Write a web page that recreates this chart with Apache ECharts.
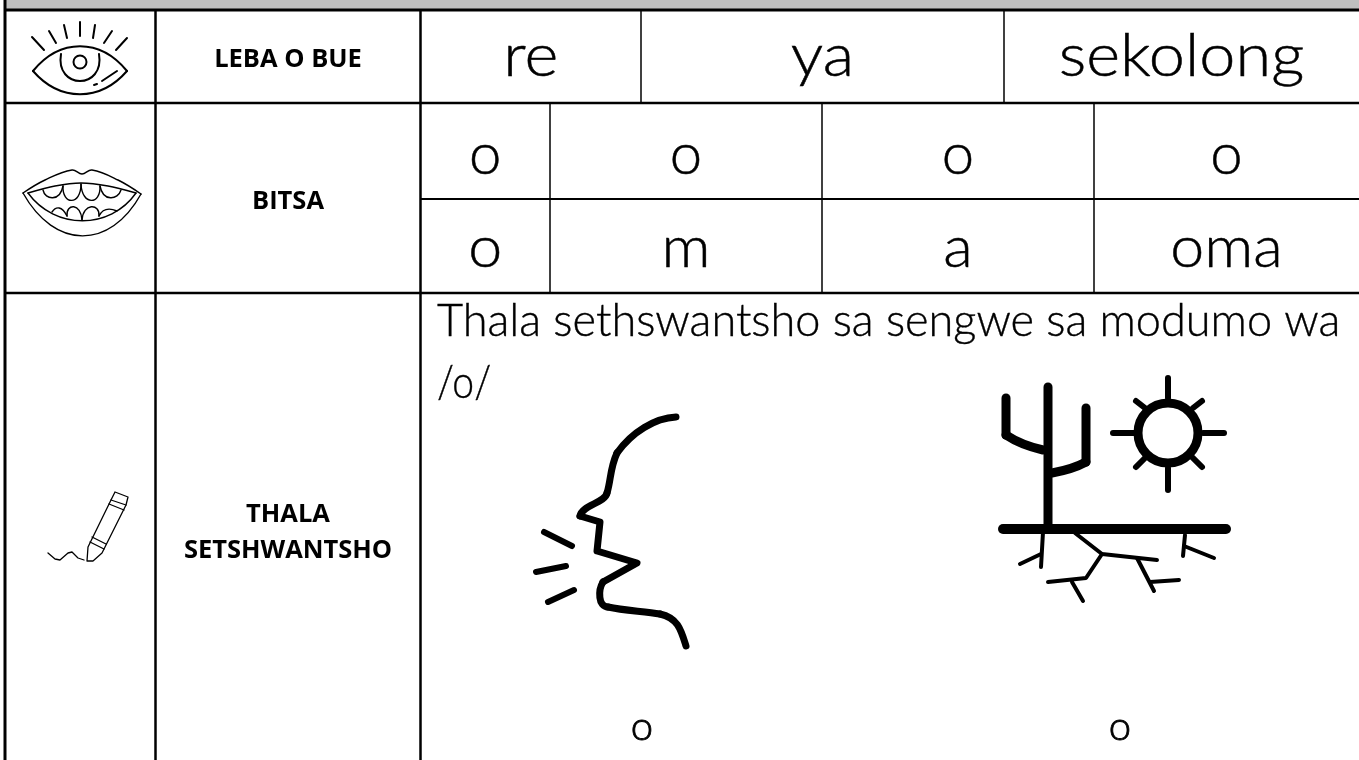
<!DOCTYPE html>
<html><head><meta charset="utf-8">
<style>html,body{margin:0;padding:0;background:#fff}#c{width:1359px;height:760px}</style>
<script src="https://cdn.jsdelivr.net/npm/echarts@6/dist/echarts.min.js"></script>
</head><body><div id="c"></div>
<script>
const rowHeadings = [['LEBA O BUE'], ['BITSA'], ['THALA', 'SETSHWANTSHO']];
const sentenceWords = ['re', 'ya', 'sekolong'];
const soundRowOne = ['o', 'o', 'o', 'o'];
const soundRowTwo = ['o', 'm', 'a', 'oma'];
const instructionLines = ['Thala sethswantsho sa sengwe sa modumo wa', '/o/'];
const pictureLabels = ['o', 'o'];

const W = 1359, H = 760;
const LEFT = 5, C1 = 155.5, C2 = 420.5;
const R0 = 10, R1 = 103, R2 = 199, R3 = 293;
const sentenceEdges = [C2, 641, 1004, W];
const soundEdges = [C2, 550, 822, 1094, W];
const HAND = 'Lato', BOLD = '"Open Sans"';

const rules = [
  [LEFT, 0, LEFT, H, 3], [C1, R0, C1, H, 2.5], [C2, R0, C2, H, 2.5],
  [LEFT, R0, W, R0, 3], [LEFT, R1, W, R1, 2.5], [C2, R2, W, R2, 2], [LEFT, R3, W, R3, 2.5],
  [641, R0, 641, R1, 1.5], [1004, R0, 1004, R1, 1.5],
  [550, R1, 550, R3, 1.5], [822, R1, 822, R3, 1.5], [1094, R1, 1094, R3, 1.5]
];

const texts = [];
const mid = (e, i) => (e[i] + e[i + 1]) / 2;
const put = (x, y, t, font, size, weight, sx, align, sw) => texts.push({x, y, t, font, size, weight, sx: sx || 1, align: align || 'center', sw: sw || 0});
put(288, 60, rowHeadings[0][0], BOLD, 25.5, 700);
put(288, 202, rowHeadings[1][0], BOLD, 25.5, 700);
put(288, 515, rowHeadings[2][0], BOLD, 25.5, 700);
put(288, 551, rowHeadings[2][1], BOLD, 25.5, 700);
sentenceWords.forEach((w, i) => put(mid(sentenceEdges, i), 57, w, HAND, 60, 300, 1.08, 'center', 0.5));
soundRowOne.forEach((w, i) => put(mid(soundEdges, i), 155, w, HAND, 58, 300, 1, 'center', 0.5));
soundRowTwo.forEach((w, i) => put(mid(soundEdges, i), 248, w, HAND, 58, 300, 1.05, 'center', 0.5));
put(437, 321, instructionLines[0], HAND, 46, 300, 0.98, 'left', 0.4);
put(437, 383, instructionLines[1], HAND, 46, 300, 0.85, 'left', 0.4);
put(642, 727, pictureLabels[0], HAND, 40, 300, 1, 'center', 0.8);
put(1120, 727, pictureLabels[1], HAND, 40, 300, 1, 'center', 0.8);

const g = [];
const S = (lw) => ({stroke: '#000', fill: null, lineWidth: lw, lineCap: 'round', lineJoin: 'round'});
const pl = (pts, lw, smooth) => g.push({type: 'polyline', shape: {points: pts, smooth: smooth || 0}, style: S(lw), silent: true});
const ln = (a, b, c, d, lw) => pl([[a, b], [c, d]], lw);
const ci = (cx, cy, r, lw) => g.push({type: 'circle', shape: {cx, cy, r}, style: S(lw), silent: true});
const bz = (a, b, c, d, e, f, h, i, lw) => g.push({type: 'bezierCurve', shape: {x1: a, y1: b, cpx1: c, cpy1: d, cpx2: e, cpy2: f, x2: h, y2: i}, style: S(lw), silent: true});

// eye
bz(33, 71, 60, 38, 100, 38, 127, 71, 2);
bz(33, 71, 60, 102, 100, 102, 127, 71, 2);
bz(61, 54, 55, 90, 105, 90, 99, 54, 2);
ci(80, 62, 6.5, 2);
[[32, 37, 44, 50], [49, 31, 56, 43], [64, 25, 67, 38], [80, 22, 80, 36], [95, 25, 93, 38], [112, 31, 104, 43], [127, 38, 116, 50], [102, 81, 117, 71], [94, 85, 97, 84]]
  .forEach(p => ln(p[0], p[1], p[2], p[3], 2));

// mouth
const Lw = 1.4;
pl([[23, 193], [45, 180], [72, 170], [82, 174], [92, 170], [118, 180], [141, 194]], Lw, 0.4);
bz(23, 193, 55, 250, 110, 250, 141, 194, Lw);
pl([[28, 193], [55, 186], [81, 183], [108, 186], [136, 193]], Lw, 0.3);
bz(28, 193, 55, 230, 110, 230, 136, 193, Lw);
bz(43, 190, 45, 200, 60, 202, 63, 186, Lw);
bz(63, 186, 62, 205, 81, 206, 81, 184, Lw);
bz(81, 184, 82, 206, 101, 205, 100, 186, Lw);
bz(100, 186, 103, 202, 118, 200, 121, 190, Lw);
bz(52, 212, 56, 206, 62, 206, 67, 216, Lw);
bz(67, 216, 66, 203, 81, 203, 82, 220, Lw);
bz(82, 220, 83, 203, 100, 203, 99, 216, Lw);
bz(99, 216, 103, 208, 110, 208, 117, 211, Lw);

// crayon
pl([[115, 492], [128, 497], [126, 505], [102, 553], [93, 561], [87, 561], [88, 547], [111, 500], [115, 492]], 1.3);
ln(111, 500, 126, 505, 1.3);
ln(109, 504, 124, 510, 1.3);
ln(92, 537, 106, 544, 1.3);
ln(90, 542, 104, 549, 1.3);
pl([[48, 553], [55, 559], [60, 560], [68, 553], [72, 552], [78, 558], [84, 560]], 1.3);

// face
const F = 7;
bz(676, 417, 655, 418, 632, 432, 617, 453, F);
bz(617, 453, 610, 468, 611, 480, 607, 493, F);
bz(607, 493, 605, 503, 582, 505, 580, 516, F);
pl([[580, 516], [600, 522], [597, 551], [637, 563], [603, 582]], F);
bz(603, 582, 598, 590, 598, 607, 608, 607, F);
bz(608, 607, 625, 611, 645, 611, 660, 614, F);
bz(660, 614, 678, 618, 681, 630, 686, 646, F);
ln(544, 532, 572, 546, 6);
ln(536, 572, 566, 566, 6);
ln(548, 602, 574, 590, 6);

// cactus and sun
ln(1048, 387, 1048, 528, 9);
ln(1006, 398, 1006, 435, 9);
bz(1006, 435, 1018, 443, 1030, 447, 1043, 450, 9);
ln(1086, 408, 1086, 462, 9);
bz(1086, 462, 1075, 468, 1063, 471, 1052, 473, 9);
ln(1003, 529, 1226, 529, 10);
ci(1168, 433, 30, 9);
[[1168, 378, 1168, 398], [1168, 468, 1168, 490], [1113, 433, 1134, 433], [1203, 433, 1224, 433], [1136, 401, 1145, 408], [1202, 401, 1193, 408], [1136, 467, 1145, 458], [1202, 467, 1193, 458]]
  .forEach(p => ln(p[0], p[1], p[2], p[3], 6));
[[1043, 532, 1041, 567], [1041, 554, 1020, 564], [1185, 535, 1183, 556], [1184, 546, 1214, 558], [1072, 582, 1083, 601], [1137, 558, 1154, 591], [1150, 582, 1179, 580]]
  .forEach(p => ln(p[0], p[1], p[2], p[3], 4));
pl([[1075, 533], [1102, 554], [1157, 560]], 4);
pl([[1102, 554], [1086, 578], [1048, 582]], 4);

const chart = echarts.init(document.getElementById('c'), null, {renderer: 'canvas'});
chart.setOption({
  animation: false,
  grid: {left: 0, right: 0, top: 0, bottom: 0},
  xAxis: {type: 'value', min: 0, max: W, show: false},
  yAxis: {type: 'value', min: 0, max: H, inverse: true, show: false},
  series: [
    {type: 'custom', silent: true, clip: false, z: 1, data: [[0]],
     renderItem: (p, api) => {
       const a = api.coord([LEFT, 0]), b = api.coord([W, R0]);
       return {type: 'rect', shape: {x: a[0], y: a[1], width: b[0] - a[0], height: b[1] - a[1]}, style: {fill: '#BFBFBF'}};
     }},
    {type: 'custom', silent: true, clip: false, z: 2, data: rules.map((r, i) => [i]),
     renderItem: (p, api) => {
       const r = rules[p.dataIndex], a = api.coord([r[0], r[1]]), b = api.coord([r[2], r[3]]);
       return {type: 'line', shape: {x1: a[0], y1: a[1], x2: b[0], y2: b[1]}, style: {stroke: '#000', lineWidth: r[4]}};
     }},
    {type: 'custom', silent: true, clip: false, z: 3, data: texts.map((t, i) => [i]),
     renderItem: (p, api) => {
       const t = texts[p.dataIndex], a = api.coord([t.x, t.y]);
       const style = {text: t.t, x: 0, y: 0, fill: '#000', align: t.align, verticalAlign: 'middle', font: `${t.weight} ${t.size}px ${t.font}`};
       if (t.sw) { style.stroke = '#000'; style.lineWidth = t.sw; }
       return {type: 'text', x: a[0], y: a[1], scaleX: t.sx, style};
     }}
  ],
  graphic: {elements: g}
});
</script></body></html>
